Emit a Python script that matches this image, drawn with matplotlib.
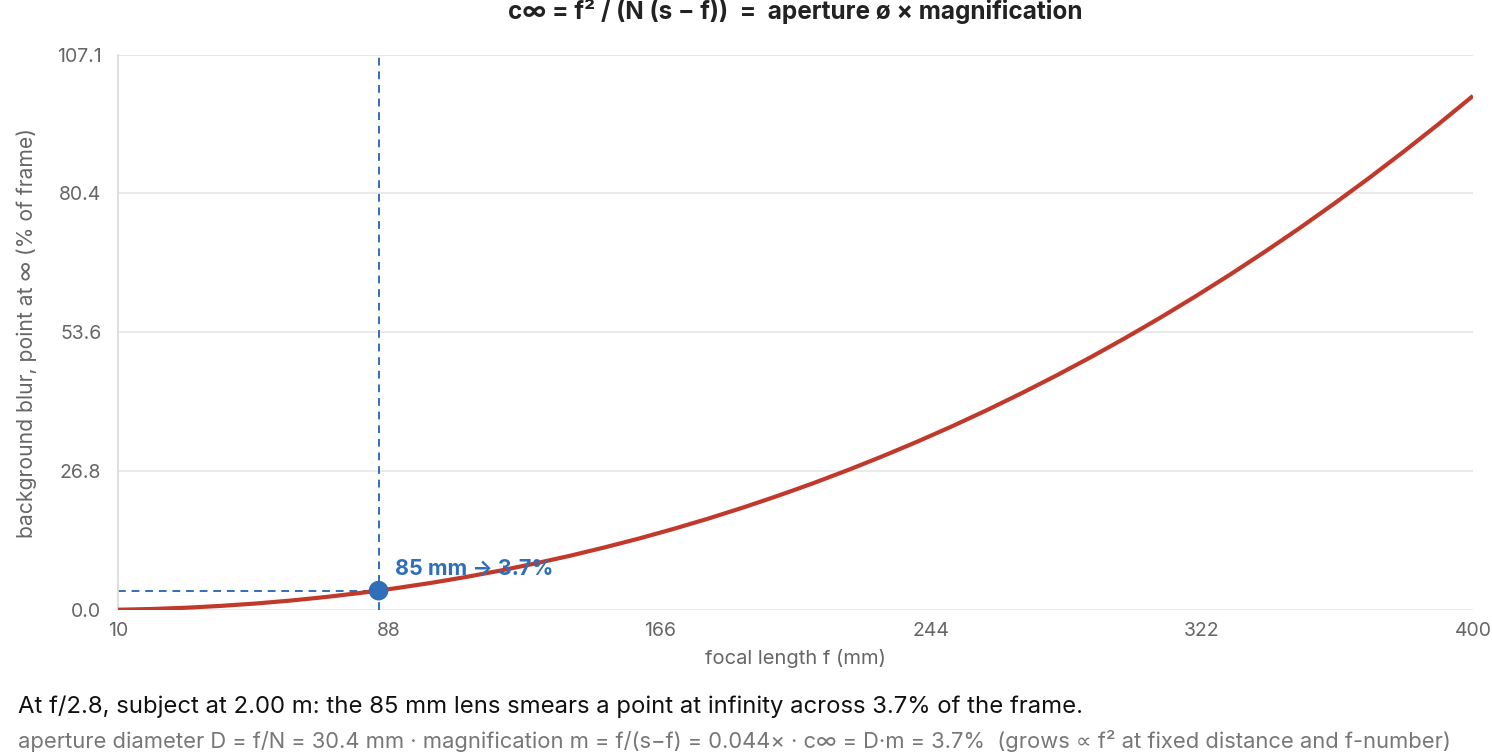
import matplotlib
matplotlib.use("Agg")
import matplotlib.pyplot as plt

plt.rcParams['font.family'] = ['Inter', 'DejaVu Sans']

# focal length (mm) and background blur (% of frame)
focal_mm = [10, 20, 30, 40, 50, 60, 70, 80, 90, 100, 110, 120, 130, 140, 150,
            160, 170, 180, 190, 200, 210, 220, 230, 240, 250, 260, 270, 280,
            290, 300, 310, 320, 330, 340, 350, 360, 370, 380, 390, 400]
blur_pct = [0.05, 0.20, 0.45, 0.81, 1.27, 1.84, 2.52, 3.31, 4.21, 5.22, 6.35,
            7.60, 8.97, 10.45, 12.07, 13.80, 15.67, 17.66, 19.79, 22.05,
            24.44, 26.98, 29.65, 32.47, 35.43, 38.54, 41.81, 45.22, 48.79,
            52.52, 56.41, 60.47, 64.69, 69.09, 73.65, 78.40, 83.32, 88.43,
            93.72, 99.21]

sel_f = 85
sel_blur = 3.74
x_ticks = [10, 88, 166, 244, 322, 400]
y_ticks = [0.0, 26.8, 53.6, 80.4, 107.1]
y_max = 107.1

title = "c\u221e = f\u00b2 / (N (s \u2212 f))  =  aperture \u00f8 \u00d7 magnification"
caption1 = "At f/2.8, subject at 2.00 m: the 85 mm lens smears a point at infinity across 3.7% of the frame."
caption2 = ("aperture diameter D = f/N = 30.4 mm \u00b7 magnification m = f/(s\u2212f) = 0.044\u00d7 \u00b7 "
            "c\u221e = D\u00b7m = 3.7%  (grows \u221d f\u00b2 at fixed distance and f-number)")

red = "#c0392b"
blue = "#2f6fba"
grid_c = "#e6e6e6"
tick_c = "#666666"

fig = plt.figure(figsize=(14.92, 7.56), dpi=100)
ax = fig.add_axes([118/1492, 1 - 610/756, (1473 - 118)/1492, (610 - 55)/756])

ax.plot(focal_mm, blur_pct, color=red, lw=3, solid_capstyle='butt', zorder=3)
ax.axvline(sel_f, color=blue, lw=1.4, ls=(0, (4, 3)), zorder=2)
ax.plot([focal_mm[0], sel_f], [sel_blur, sel_blur], color=blue, lw=1.4,
        ls=(0, (4, 3)), zorder=2)
ax.scatter([sel_f], [sel_blur], s=200, color=blue, zorder=4, edgecolors='none')
ax.annotate("85 mm \u2192 3.7%", xy=(sel_f, sel_blur), xytext=(12, 9),
            textcoords='offset points', color=blue, fontsize=15.5,
            fontweight='bold', va='bottom', ha='left', zorder=5)

ax.set_xlim(10, 400)
ax.set_ylim(0, y_max)
ax.set_xticks(x_ticks)
ax.set_xticklabels([str(v) for v in x_ticks])
ax.set_yticks(y_ticks)
ax.set_yticklabels([f"{v:.1f}" for v in y_ticks])
ax.tick_params(length=0, labelsize=14, colors=tick_c)
ax.tick_params(axis='x', pad=9)
ax.tick_params(axis='y', pad=12)
ax.grid(axis='y', color=grid_c, lw=1.2)
ax.set_axisbelow(True)
for s in ['top', 'right', 'bottom']:
    ax.spines[s].set_visible(False)
ax.spines['left'].set_color("#d9d9d9")
ax.spines['left'].set_linewidth(1.2)

ax.set_xlabel("focal length f (mm)", fontsize=14.5, color=tick_c, labelpad=6)
ax.set_ylabel("background blur, point at \u221e (% of frame)", fontsize=15.2,
              color=tick_c, labelpad=14)

fig.text((118 + 1473) / 2 / 1492, 1 - 12 / 756, title, ha='center', va='center',
         fontsize=17.5, fontweight='bold', color="#222222")
fig.text(18 / 1492, 1 - 707 / 756, caption1, ha='left', va='center',
         fontsize=17.2, color="#111111")
fig.text(18 / 1492, 1 - 741 / 756, caption2, ha='left', va='center',
         fontsize=15.8, color="#777777")

fig.savefig("out.png", dpi=100, facecolor='white')
